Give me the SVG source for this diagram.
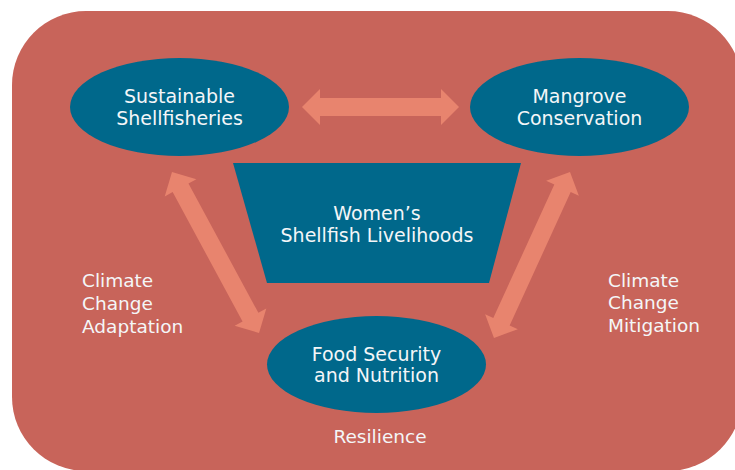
<svg xmlns="http://www.w3.org/2000/svg" width="735" height="470" viewBox="0 0 735 470">
<style>
.bg{fill:#C8645A}
.node{fill:#00688B}
.arrow{fill:#E8846E}
.t{font-family:"DejaVu Sans","Verdana",sans-serif;font-size:19px;fill:#F4F6F8;text-anchor:middle}
.lbl{font-family:"DejaVu Sans","Verdana",sans-serif;font-size:18.5px;fill:#F4F6F8}
</style>
<rect class="bg" x="12" y="11" width="730" height="460" rx="74" ry="74"/>
<g id="connectors">
<polygon class="arrow" points="302,107 320,89 320,98 441,98 441,89 459,107 441,125 441,116 320,116 320,125"/>
<polygon class="arrow" transform="translate(172,172) rotate(61.6)" points="0,0 18,-18 18,-9 165,-9 165,-18 183,0 165,18 165,9 18,9 18,18"/>
<polygon class="arrow" transform="translate(570,172) rotate(114.6)" points="0,0 18,-18 18,-9 164.6,-9 164.6,-18 182.6,0 164.6,18 164.6,9 18,9 18,18"/>
</g>
<g id="sustainable-shellfisheries">
<ellipse class="node" cx="179.5" cy="107" rx="109.5" ry="49"/>
<text class="t" x="179.5" y="103">Sustainable</text>
<text class="t" x="179.5" y="125">Shellfisheries</text>
</g>
<g id="mangrove-conservation">
<ellipse class="node" cx="579.5" cy="107" rx="109.5" ry="49"/>
<text class="t" x="579.5" y="103">Mangrove</text>
<text class="t" x="579.5" y="125">Conservation</text>
</g>
<g id="womens-livelihoods">
<polygon class="node" points="233,163 521,163 489,283 267,283"/>
<text class="t" x="377" y="220">Women’s</text>
<text class="t" x="377" y="242">Shellfish Livelihoods</text>
</g>
<g id="food-security">
<ellipse class="node" cx="376.5" cy="364.5" rx="109.5" ry="48.5"/>
<text class="t" x="376.5" y="361">Food Security</text>
<text class="t" x="376.5" y="382">and Nutrition</text>
</g>
<g id="adaptation-label">
<text class="lbl" x="82" y="287">Climate</text>
<text class="lbl" x="82" y="310">Change</text>
<text class="lbl" x="82" y="333">Adaptation</text>
</g>
<g id="mitigation-label">
<text class="lbl" x="608" y="287">Climate</text>
<text class="lbl" x="608" y="309">Change</text>
<text class="lbl" x="608" y="332">Mitigation</text>
</g>
<g id="resilience-label">
<text class="lbl" x="380" y="443" text-anchor="middle">Resilience</text>
</g>
</svg>
